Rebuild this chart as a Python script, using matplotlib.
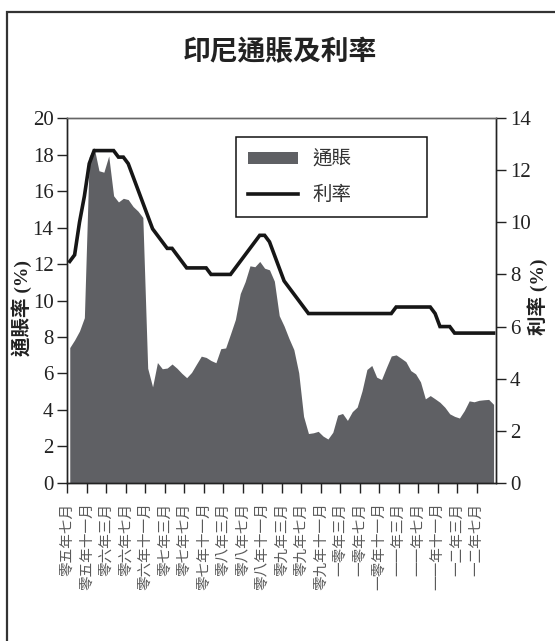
import matplotlib.pyplot as plt
import numpy as np
from matplotlib.patches import Patch, Rectangle
from matplotlib.lines import Line2D

cjk = 'Noto Sans CJK TC'
serif = 'Liberation Serif'

# monthly values, Jul 2005 onwards (one point per month)
inflation = [7.42, 7.84, 8.33, 9.06, 17.89, 18.38, 17.11,
             17.03, 17.92, 15.74, 15.40, 15.60, 15.53, 15.15, 14.90, 14.55, 6.29, 5.27, 6.60,
             6.26, 6.30, 6.52, 6.29, 6.01, 5.77, 6.06, 6.51, 6.95, 6.88, 6.71, 6.59,
             7.36, 7.40, 8.17, 8.96, 10.38, 11.03, 11.90, 11.85, 12.14, 11.77, 11.68, 11.06,
             9.17, 8.60, 7.92, 7.31, 6.04, 3.65, 2.71, 2.75, 2.83, 2.57, 2.41, 2.78,
             3.72, 3.81, 3.43, 3.91, 4.16, 5.05, 6.22, 6.44, 5.80, 5.67, 6.33, 6.96,
             7.02, 6.84, 6.65, 6.16, 5.98, 5.54, 4.61, 4.79, 4.61, 4.42, 4.15, 3.79,
             3.65, 3.56, 3.97, 4.50, 4.45, 4.53, 4.56, 4.58, 4.31]
rate = [8.50, 8.75, 10.00, 11.00, 12.25, 12.75,
        12.75, 12.75, 12.75, 12.75, 12.50, 12.50, 12.25, 11.75, 11.25, 10.75, 10.25, 9.75,
        9.50, 9.25, 9.00, 9.00, 8.75, 8.50, 8.25, 8.25, 8.25, 8.25, 8.25, 8.00,
        8.00, 8.00, 8.00, 8.00, 8.25, 8.50, 8.75, 9.00, 9.25, 9.50, 9.50, 9.25,
        8.75, 8.25, 7.75, 7.50, 7.25, 7.00, 6.75, 6.50, 6.50, 6.50, 6.50, 6.50,
        6.50, 6.50, 6.50, 6.50, 6.50, 6.50, 6.50, 6.50, 6.50, 6.50, 6.50, 6.50,
        6.50, 6.75, 6.75, 6.75, 6.75, 6.75, 6.75, 6.75, 6.75, 6.50, 6.00, 6.00,
        6.00, 5.75, 5.75, 5.75, 5.75, 5.75, 5.75, 5.75, 5.75, 5.75]
month_labels = ['零五年七月', '零五年十一月', '零六年三月', '零六年七月', '零六年十一月',
                '零七年三月', '零七年七月', '零七年十一月', '零八年三月', '零八年七月',
                '零八年十一月', '零九年三月', '零九年七月', '零九年十一月', '一零年三月',
                '一零年七月', '一零年十一月', '一一年三月', '一一年七月', '一一年十一月',
                '一二年三月', '一二年七月']

n = len(rate)
x = np.arange(n) + 0.5   # centre of each month

fig = plt.figure(figsize=(5.55, 6.41), dpi=100)
ax = fig.add_axes([0.1213, 0.2465, 0.7724, 0.5694])
ax2 = ax.twinx()

ax.fill_between(x, 0, inflation, color='#5f6064', linewidth=0)
ax2.plot(x, rate, color='#161616', linewidth=2.6, solid_joinstyle='miter')

ax.set_xlim(0, n)
ax.set_ylim(0, 20)
ax2.set_ylim(0, 14)
ax.set_yticks(np.arange(0, 21, 2))
ax2.set_yticks(np.arange(0, 15, 2))
ax.set_xticks(np.arange(0, n - 3, 4))
ax.set_xticklabels(month_labels, rotation=90, ha='center', va='top',
                   family=cjk, fontsize=10.5, color='#5a5a5a')

for a in (ax, ax2):
    a.tick_params(direction='out', length=7, width=1, color='#222222')
    for s in a.spines.values():
        s.set_linewidth(1)
        s.set_color('#222222')
    a.spines['top'].set_color('#666666')
for lab in ax.get_yticklabels() + ax2.get_yticklabels():
    lab.set_family(serif)
    lab.set_fontsize(15)
    lab.set_color('#222222')
ax.tick_params(axis='y', pad=3)
ax2.tick_params(axis='y', pad=3)
ax.tick_params(axis='x', pad=7)

ax.set_ylabel('通賬率 (%)', family=[serif, cjk], fontsize=14, fontweight='bold', color='#222222')
ax.yaxis.set_label_coords(-0.083, 0.48)
ax2.set_ylabel('利率 (%)', family=[serif, cjk], fontsize=14, fontweight='bold', color='#222222')
ax2.yaxis.set_label_coords(1.074, 0.51)

handles = [Patch(facecolor='#5f6064', edgecolor='none'),
           Line2D([], [], color='#161616', linewidth=2.6)]
leg = ax2.legend(handles, ['通賬', '利率'], loc='upper left',
                 bbox_to_anchor=(0.3935, 0.948, 0.4455, 0.0), mode='expand',
                 prop={'family': cjk, 'size': 14}, frameon=True, fancybox=False,
                 framealpha=1, edgecolor='#111111', borderpad=0.6,
                 handlelength=2.6, handleheight=0.6, handletextpad=0.75,
                 labelspacing=0.75, borderaxespad=0)
leg.get_frame().set_linewidth(1.1)
for t in leg.get_texts():
    t.set_color('#333333')

fig.text(0.5045, 1 - 51.7 / 641, '印尼通賬及利率', ha='center', va='center',
         family=cjk, fontsize=20, fontweight='bold', color='#222222')

# page frame
fig.patches.append(Rectangle((7 / 555, -0.2), 1.2, 1.2 - 12 / 641, transform=fig.transFigure,
                             fill=False, edgecolor='#333333', linewidth=1.6))

fig.savefig('out.png', dpi=100)
